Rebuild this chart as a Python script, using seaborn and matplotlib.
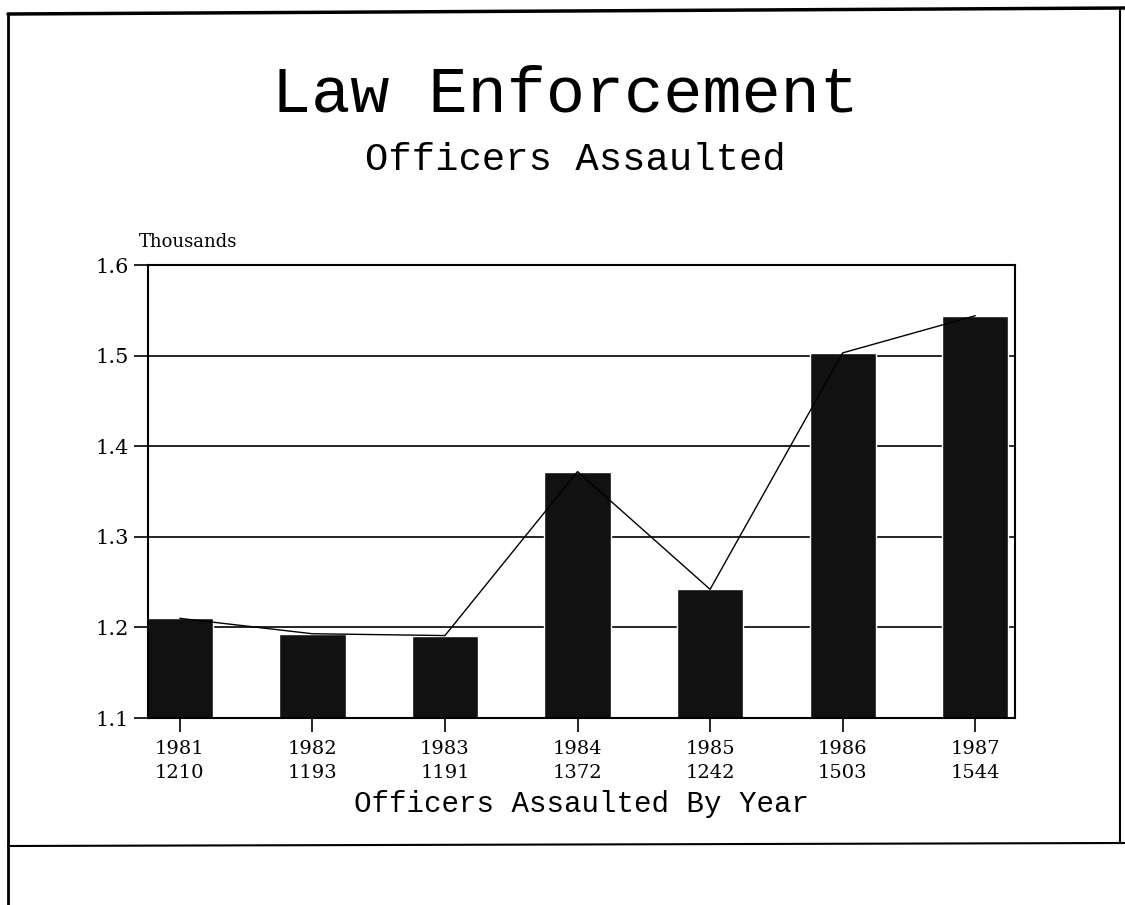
import pandas as pd
import seaborn as sns
import matplotlib.pyplot as plt
from matplotlib.lines import Line2D

years = ['1981', '1982', '1983', '1984', '1985', '1986', '1987']
assaults = [1210, 1193, 1191, 1372, 1242, 1503, 1544]
y_ticks = [1.1, 1.2, 1.3, 1.4, 1.5, 1.6]

data = pd.DataFrame({'year': years, 'thousands': [a / 1000 for a in assaults]})

sns.set_style('white')
plt.rcParams['font.family'] = ['Liberation Mono', 'DejaVu Sans']
plt.rcParams['text.color'] = 'black'
plt.rcParams['xtick.color'] = 'black'
plt.rcParams['ytick.color'] = 'black'
plt.rcParams['axes.labelcolor'] = 'black'

fig = plt.figure(figsize=(11.25, 9.05), dpi=100)
ax = fig.add_axes([148 / 1125, 1 - 718 / 905, 867 / 1125, 453 / 905])

# gridlines behind bars
for t in y_ticks[1:-1]:
    ax.axhline(t, color='black', lw=1.2, zorder=0)

sns.barplot(data=data, x='year', y='thousands', color='#111111', width=0.5,
            saturation=1, ax=ax, zorder=2)
sns.pointplot(data=data, x='year', y='thousands', color='black', markersize=0,
              linewidth=1, errorbar=None, ax=ax, zorder=3)

ax.set_ylim(1.1, 1.6)
ax.set_xlim(-0.24, 6.3)
ax.set_yticks(y_ticks)
ax.set_yticklabels([f'{t:.1f}' for t in y_ticks], fontsize=15, fontfamily='DejaVu Serif')
ax.set_xticks(range(len(years)))
ax.set_xticklabels([f'{y}\n{a}' for y, a in zip(years, assaults)], fontsize=14,
                   fontfamily='DejaVu Serif', linespacing=1.4)
ax.tick_params(axis='both', direction='out', length=10, width=1.2, color='black',
               bottom=True, left=True)
ax.tick_params(axis='x', pad=6)
ax.tick_params(axis='y', pad=4)
ax.set_xlabel('Officers Assaulted By Year', fontsize=21, labelpad=6)
ax.set_ylabel('')
for s in ax.spines.values():
    s.set_visible(True)
    s.set_color('black')
    s.set_linewidth(1.5)

ax.text(-0.01, 1.03, 'Thousands', transform=ax.transAxes, fontsize=13,
        fontfamily='DejaVu Serif', ha='left', va='bottom')

fig.text(565 / 1125, 1 - 95 / 905, 'Law Enforcement', fontsize=47,
         ha='center', va='center')
fig.text(575 / 1125, 1 - 160 / 905, 'Officers Assaulted', fontsize=28,
         ha='center', va='center')

# page frame
fig.add_artist(Line2D([8 / 1125, 1], [1 - 14 / 905, 1 - 8 / 905], color='black', lw=2.5))
fig.add_artist(Line2D([8 / 1125, 8 / 1125], [1 - 14 / 905, 0], color='black', lw=2))
fig.add_artist(Line2D([8 / 1125, 1], [1 - 846 / 905, 1 - 843 / 905], color='black', lw=1.5))
fig.add_artist(Line2D([1120 / 1125, 1120 / 1125], [1 - 8 / 905, 1 - 843 / 905], color='black', lw=1.5))

plt.savefig('out.png', dpi=100)
